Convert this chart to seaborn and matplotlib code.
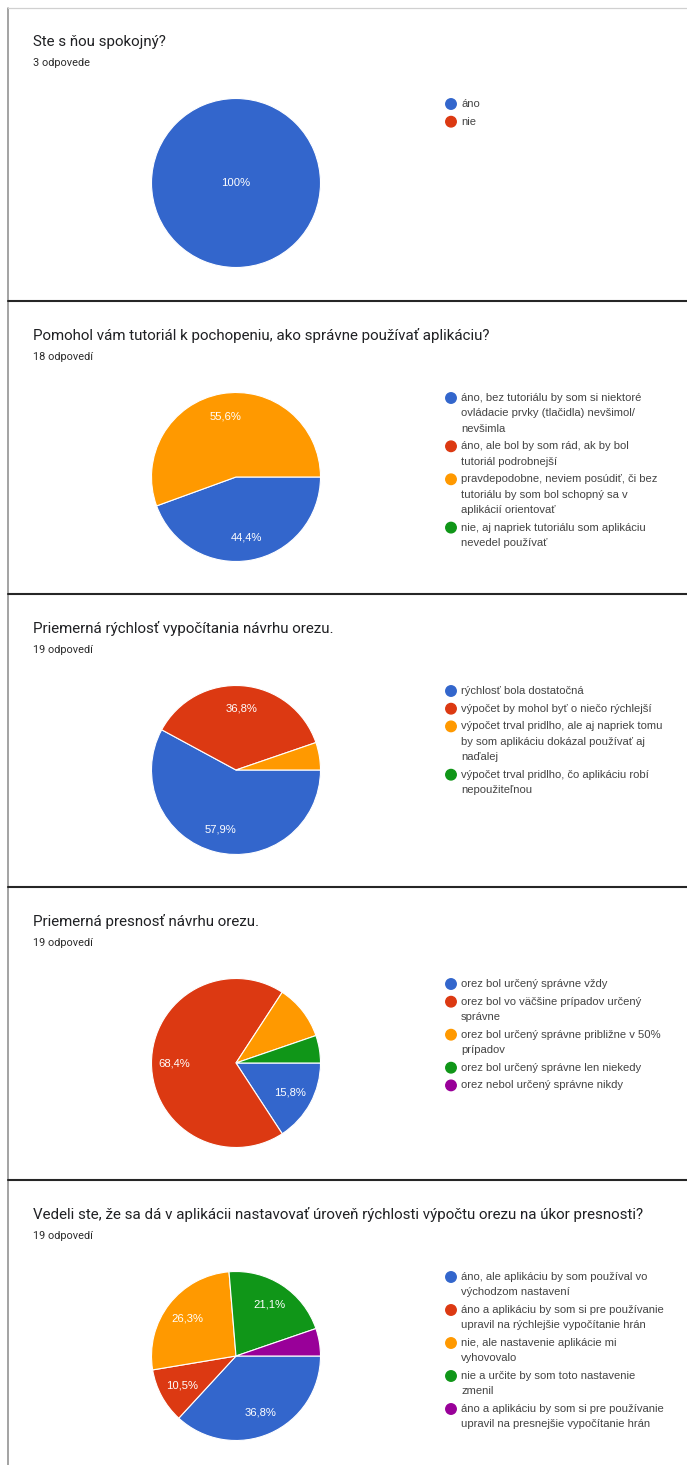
import numpy as np
import matplotlib
matplotlib.use("Agg")
import matplotlib.pyplot as plt
from matplotlib.patches import Ellipse
from matplotlib.lines import Line2D
import seaborn as sns

# ---- survey data -------------------------------------------------------
titles = [
    "Ste s ňou spokojný?",
    "Pomohol vám tutoriál k pochopeniu, ako správne používať aplikáciu?",
    "Priemerná rýchlosť vypočítania návrhu orezu.",
    "Priemerná presnosť návrhu orezu.",
    "Vedeli ste, že sa dá v aplikácii nastavovať úroveň rýchlosti výpočtu orezu na úkor presnosti?",
]
responses = ["3 odpovede", "18 odpovedí", "19 odpovedí", "19 odpovedí", "19 odpovedí"]

options_1 = ["áno", "nie"]
counts_1 = [3, 0]

options_2 = [
    "áno, bez tutoriálu by som si niektoré\novládacie prvky (tlačidla) nevšimol/\nnevšimla",
    "áno, ale bol by som rád, ak by bol\ntutoriál podrobnejší",
    "pravdepodobne, neviem posúdiť, či bez\ntutoriálu by som bol schopný sa v\naplikácií orientovať",
    "nie, aj napriek tutoriálu som aplikáciu\nnevedel používať",
]
counts_2 = [8, 0, 10, 0]

options_3 = [
    "rýchlosť bola dostatočná",
    "výpočet by mohol byť o niečo rýchlejší",
    "výpočet trval pridlho, ale aj napriek tomu\nby som aplikáciu dokázal používať aj\nnaďalej",
    "výpočet trval pridlho, čo aplikáciu robí\nnepoužiteľnou",
]
counts_3 = [11, 7, 1, 0]

options_4 = [
    "orez bol určený správne vždy",
    "orez bol vo väčšine prípadov určený\nsprávne",
    "orez bol určený správne približne v 50%\nprípadov",
    "orez bol určený správne len niekedy",
    "orez nebol určený správne nikdy",
]
counts_4 = [3, 13, 2, 1, 0]

options_5 = [
    "áno, ale aplikáciu by som používal vo\nvýchodzom nastavení",
    "áno a aplikáciu by som si pre používanie\nupravil na rýchlejšie vypočítanie hrán",
    "nie, ale nastavenie aplikácie mi\nvyhovovalo",
    "nie a určite by som toto nastavenie\nzmenil",
    "áno a aplikáciu by som si pre používanie\nupravil na presnejšie vypočítanie hrán",
]
counts_5 = [7, 2, 5, 4, 1]

options = [options_1, options_2, options_3, options_4, options_5]
counts = [counts_1, counts_2, counts_3, counts_4, counts_5]
# smallest share that still gets a percentage label inside its slice
min_label_share = [0.06, 0.06, 0.06, 0.11, 0.06]

# ---- styling -----------------------------------------------------------
sns.set_theme(style="white")
palette = sns.color_palette(["#3366cc", "#dc3912", "#ff9900", "#109618", "#990099"])
TITLE_FONT = ["Roboto", "DejaVu Sans"]
BODY_FONT = ["Liberation Sans", "DejaVu Sans"]

W, H = 687, 1465
fig = plt.figure(figsize=(W / 100, H / 100), dpi=100)
fig.patch.set_facecolor("white")


def fx(px):
    return px / W


def fy(py):
    return 1 - py / H


PANEL_H = 293
FIRST_TOP = 8
PIE_CX, PIE_DY, PIE_R = 236, 175, 84.5
LEG_DOT_X, LEG_TEXT_X = 451, 461
LEG_FIRST_DY, LINE_H, ITEM_GAP = 96, 15.3, 17.7

# outer frame and panel separators
fig.add_artist(Line2D([fx(8), fx(8)], [fy(8), fy(H)], color="#8a8a8a", lw=1.1))
fig.add_artist(Line2D([fx(8), fx(W)], [fy(8), fy(8)], color="#d0d0d0", lw=0.9))
for k in range(1, 5):
    yy = fy(FIRST_TOP + PANEL_H * k)
    fig.add_artist(Line2D([fx(8), fx(W)], [yy, yy], color="#262626", lw=1.5))


def pct_text(share):
    p = share * 100
    if round(p, 1) == 100:
        return "100%"
    return f"{p:.1f}".replace(".", ",") + "%"


for i in range(5):
    top = FIRST_TOP + PANEL_H * i + (1 if i > 0 else 0)
    fig.text(fx(33), fy(top + 38), titles[i], fontsize=10.9, family=TITLE_FONT,
             color="#202124", va="baseline", ha="left")
    fig.text(fx(33), fy(top + 58), responses[i], fontsize=7.9, family=TITLE_FONT,
             color="#2b2b2b", va="baseline", ha="left")

    vals = counts[i]
    total = sum(vals)
    shown = [(v, palette[j]) for j, v in enumerate(vals) if v > 0]
    cy = top + PIE_DY
    ax = fig.add_axes([fx(PIE_CX - PIE_R), fy(cy + PIE_R), 2 * PIE_R / W, 2 * PIE_R / H])
    single = len(shown) == 1
    ax.pie(
        [v for v, _ in shown],
        colors=[c for _, c in shown],
        startangle=0,
        counterclock=False,
        wedgeprops=dict(edgecolor="white", linewidth=0.8),
        radius=1,
    )
    ax.set_xlim(-1, 1)
    ax.set_ylim(-1, 1)
    ax.set_aspect("auto")
    ax.axis("off")

    # percentage labels inside the slices
    start = 0.0
    for v, _ in shown:
        share = v / total
        span = 360 * share
        mid = np.deg2rad(start - span / 2)
        start -= span
        if share < min_label_share[i]:
            continue
        d = 0 if single else 0.73
        ax.text(d * np.cos(mid), d * np.sin(mid), pct_text(share), color="white",
                fontsize=8.1, family=BODY_FONT, ha="center", va="center")

    # legend with wrapped entries, dot aligned to the first line
    ly = top + LEG_FIRST_DY
    for j, label in enumerate(options[i]):
        fig.add_artist(Ellipse((fx(LEG_DOT_X), fy(ly)), 10.5 / W, 10.5 / H,
                               color=palette[j], transform=fig.transFigure))
        lines = label.split("\n")
        for n, line in enumerate(lines):
            fig.text(fx(LEG_TEXT_X), fy(ly + n * LINE_H), line, fontsize=8.1,
                     family=BODY_FONT, color="#444444", va="center", ha="left")
        ly += (len(lines) - 1) * LINE_H + ITEM_GAP

fig.savefig("out.png", dpi=100, facecolor="white")
